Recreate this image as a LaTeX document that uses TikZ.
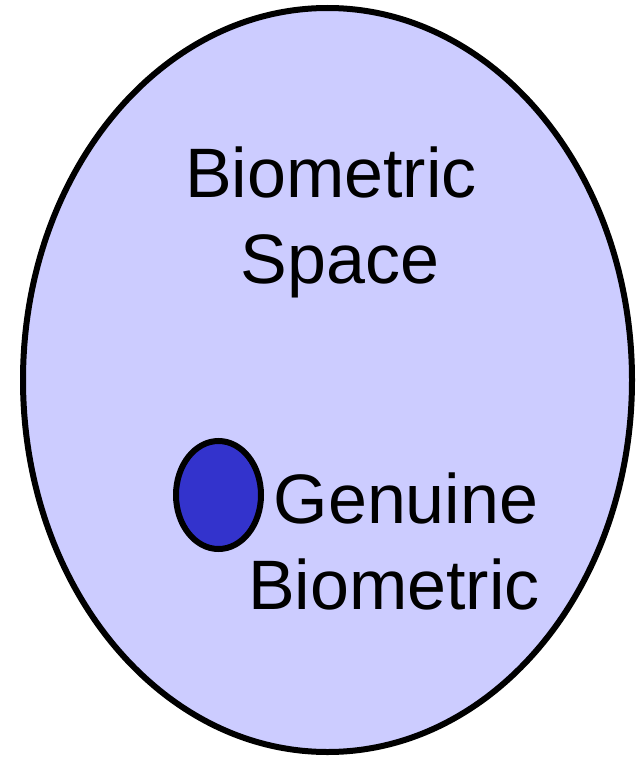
\documentclass[tikz,border=0pt]{standalone}
\usepackage{fontspec}
\setmainfont{Liberation Sans}
\definecolor{spacefill}{HTML}{CCCCFF}
\definecolor{genfill}{HTML}{3333CC}
\begin{document}
\begin{tikzpicture}[x=1pt,y=-1pt,
  region/.style={draw=black,line width=6pt},
  label/.style={font=\fontsize{70}{86}\selectfont,align=center,inner sep=0pt,text=black}]
\useasboundingbox (0,0) rectangle (637,760);
\draw[region,fill=spacefill] (327.5,380) ellipse [x radius=304.5, y radius=372];
\draw[region,fill=genfill] (218.5,495) ellipse [x radius=42.5, y radius=54];
\node[label] (space) at (331,222) {Biometric\\\hspace*{18pt}Space};
\node[label] (genuine) at (394,541) {\hspace*{24pt}Genuine\\Biometric};
\end{tikzpicture}
\end{document}
